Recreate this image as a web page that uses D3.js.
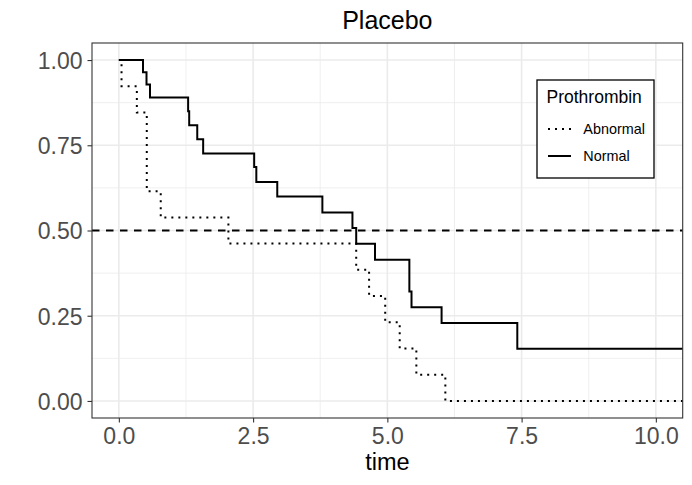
<html>
<head>
<script src="https://d3js.org/d3.v7.min.js"></script>
<style>
  body { margin: 0; background: #fff; }
  text { font-family: "Liberation Sans", Arial, sans-serif; }
</style>
</head>
<body>
<script>
// data: time of each step and survival after it
let normalTime = [0, 0.45, 0.515, 0.58, 1.29, 1.31, 1.46, 1.57, 2.52, 2.56, 2.95, 3.79, 4.35, 4.42, 4.77, 5.41, 5.45, 6.01, 7.42, 10.6];
let normalSurv = [1, 0.964, 0.928, 0.890, 0.850, 0.809, 0.768, 0.726, 0.686, 0.642, 0.600, 0.553, 0.507, 0.461, 0.414, 0.321, 0.275, 0.229, 0.153, 0.153];
let abnTime = [0, 0.05, 0.335, 0.52, 0.78, 2.04, 4.42, 4.66, 4.96, 5.23, 5.54, 6.08, 10.6];
let abnSurv = [1, 0.923, 0.846, 0.615, 0.538, 0.462, 0.385, 0.308, 0.231, 0.154, 0.077, 0, 0];
let groups = ["Abnormal", "Normal"];
let xTicks = [0, 2.5, 5, 7.5, 10];
let xMinor = [1.25, 3.75, 6.25, 8.75];
let yTicks = [0, 0.25, 0.5, 0.75, 1];
let yMinor = [0.125, 0.375, 0.625, 0.875];
let refLine = 0.5;

let panel = {left: 92, top: 43, right: 682.7, bottom: 418};

let x = d3.scaleLinear().domain([-0.5, 10.5]).range([panel.left, panel.right]);
let y = d3.scaleLinear().domain([-0.05, 1.05]).range([panel.bottom, panel.top]);

let svg = d3.select("body").append("svg")
    .attr("width", 692)
    .attr("height", 485);

svg.append("defs").append("clipPath").attr("id", "clip")
    .append("rect")
    .attr("x", panel.left).attr("y", panel.top)
    .attr("width", panel.right - panel.left)
    .attr("height", panel.bottom - panel.top);

// grid
let grid = svg.append("g");
grid.selectAll(".xmin").data(xMinor).enter().append("line")
    .attr("x1", d => x(d)).attr("x2", d => x(d))
    .attr("y1", panel.top).attr("y2", panel.bottom)
    .attr("stroke", "#ebebeb").attr("stroke-width", 0.8);
grid.selectAll(".ymin").data(yMinor).enter().append("line")
    .attr("y1", d => y(d)).attr("y2", d => y(d))
    .attr("x1", panel.left).attr("x2", panel.right)
    .attr("stroke", "#ebebeb").attr("stroke-width", 0.8);
grid.selectAll(".xmaj").data(xTicks).enter().append("line")
    .attr("x1", d => x(d)).attr("x2", d => x(d))
    .attr("y1", panel.top).attr("y2", panel.bottom)
    .attr("stroke", "#ebebeb").attr("stroke-width", 1.6);
grid.selectAll(".ymaj").data(yTicks).enter().append("line")
    .attr("y1", d => y(d)).attr("y2", d => y(d))
    .attr("x1", panel.left).attr("x2", panel.right)
    .attr("stroke", "#ebebeb").attr("stroke-width", 1.6);

// curves
let line = d3.line()
    .x(d => x(d[0]))
    .y(d => y(d[1]))
    .curve(d3.curveStepAfter);

let curves = svg.append("g").attr("clip-path", "url(#clip)");

curves.append("path")
    .datum(abnTime.map((t, i) => [t, abnSurv[i]]))
    .attr("d", line)
    .attr("fill", "none")
    .attr("stroke", "#000")
    .attr("stroke-width", 2)
    .attr("stroke-dasharray", "2,5");

curves.append("path")
    .datum(normalTime.map((t, i) => [t, normalSurv[i]]))
    .attr("d", line)
    .attr("fill", "none")
    .attr("stroke", "#000")
    .attr("stroke-width", 2);

curves.append("line")
    .attr("x1", panel.left).attr("x2", panel.right)
    .attr("y1", y(refLine)).attr("y2", y(refLine))
    .attr("stroke", "#000")
    .attr("stroke-width", 2)
    .attr("stroke-dasharray", "7.5,6.5");

// panel border
svg.append("rect")
    .attr("x", panel.left).attr("y", panel.top)
    .attr("width", panel.right - panel.left)
    .attr("height", panel.bottom - panel.top)
    .attr("fill", "none")
    .attr("stroke", "#333")
    .attr("stroke-width", 1.1);

// axes
let xAxis = svg.append("g")
    .attr("transform", "translate(0," + panel.bottom + ")")
    .call(d3.axisBottom(x).tickValues(xTicks).tickFormat(d3.format(".1f")).tickSize(4.5).tickPadding(5));
let yAxis = svg.append("g")
    .attr("transform", "translate(" + panel.left + ",0)")
    .call(d3.axisLeft(y).tickValues(yTicks).tickFormat(d3.format(".2f")).tickSize(4.5).tickPadding(5));

[xAxis, yAxis].forEach(function (a) {
    a.select(".domain").remove();
    a.selectAll(".tick line").attr("stroke", "#333").attr("stroke-width", 1.1);
    a.selectAll(".tick text")
        .attr("fill", "#4d4d4d")
        .attr("font-size", 23)
        .attr("font-family", "Liberation Sans, Arial, sans-serif");
});
yAxis.selectAll(".tick text").attr("dy", "0.36em");

// titles
svg.append("text")
    .attr("x", (panel.left + panel.right) / 2)
    .attr("y", 28.5)
    .attr("text-anchor", "middle")
    .attr("font-size", 25)
    .text("Placebo");

svg.append("text")
    .attr("x", (panel.left + panel.right) / 2)
    .attr("y", 470)
    .attr("text-anchor", "middle")
    .attr("font-size", 23.5)
    .text("time");

// legend
let legend = svg.append("g");
legend.append("rect")
    .attr("x", 537).attr("y", 80)
    .attr("width", 117).attr("height", 98)
    .attr("fill", "#fff")
    .attr("stroke", "#000")
    .attr("stroke-width", 1.3);
legend.append("text")
    .attr("x", 546.5).attr("y", 103.3)
    .attr("font-size", 17.5)
    .text("Prothrombin");

let keyY = [129, 156];
let keyDash = ["2,5", null];
legend.selectAll(".key").data(groups).enter().append("line")
    .attr("x1", 548).attr("x2", 571)
    .attr("y1", (d, i) => keyY[i]).attr("y2", (d, i) => keyY[i])
    .attr("stroke", "#000")
    .attr("stroke-width", 2)
    .attr("stroke-dasharray", (d, i) => keyDash[i]);
legend.selectAll(".lab").data(groups).enter().append("text")
    .attr("x", 583.3)
    .attr("y", (d, i) => keyY[i] + 5.2)
    .attr("font-size", 14.4)
    .text(d => d);
</script>
</body>
</html>
